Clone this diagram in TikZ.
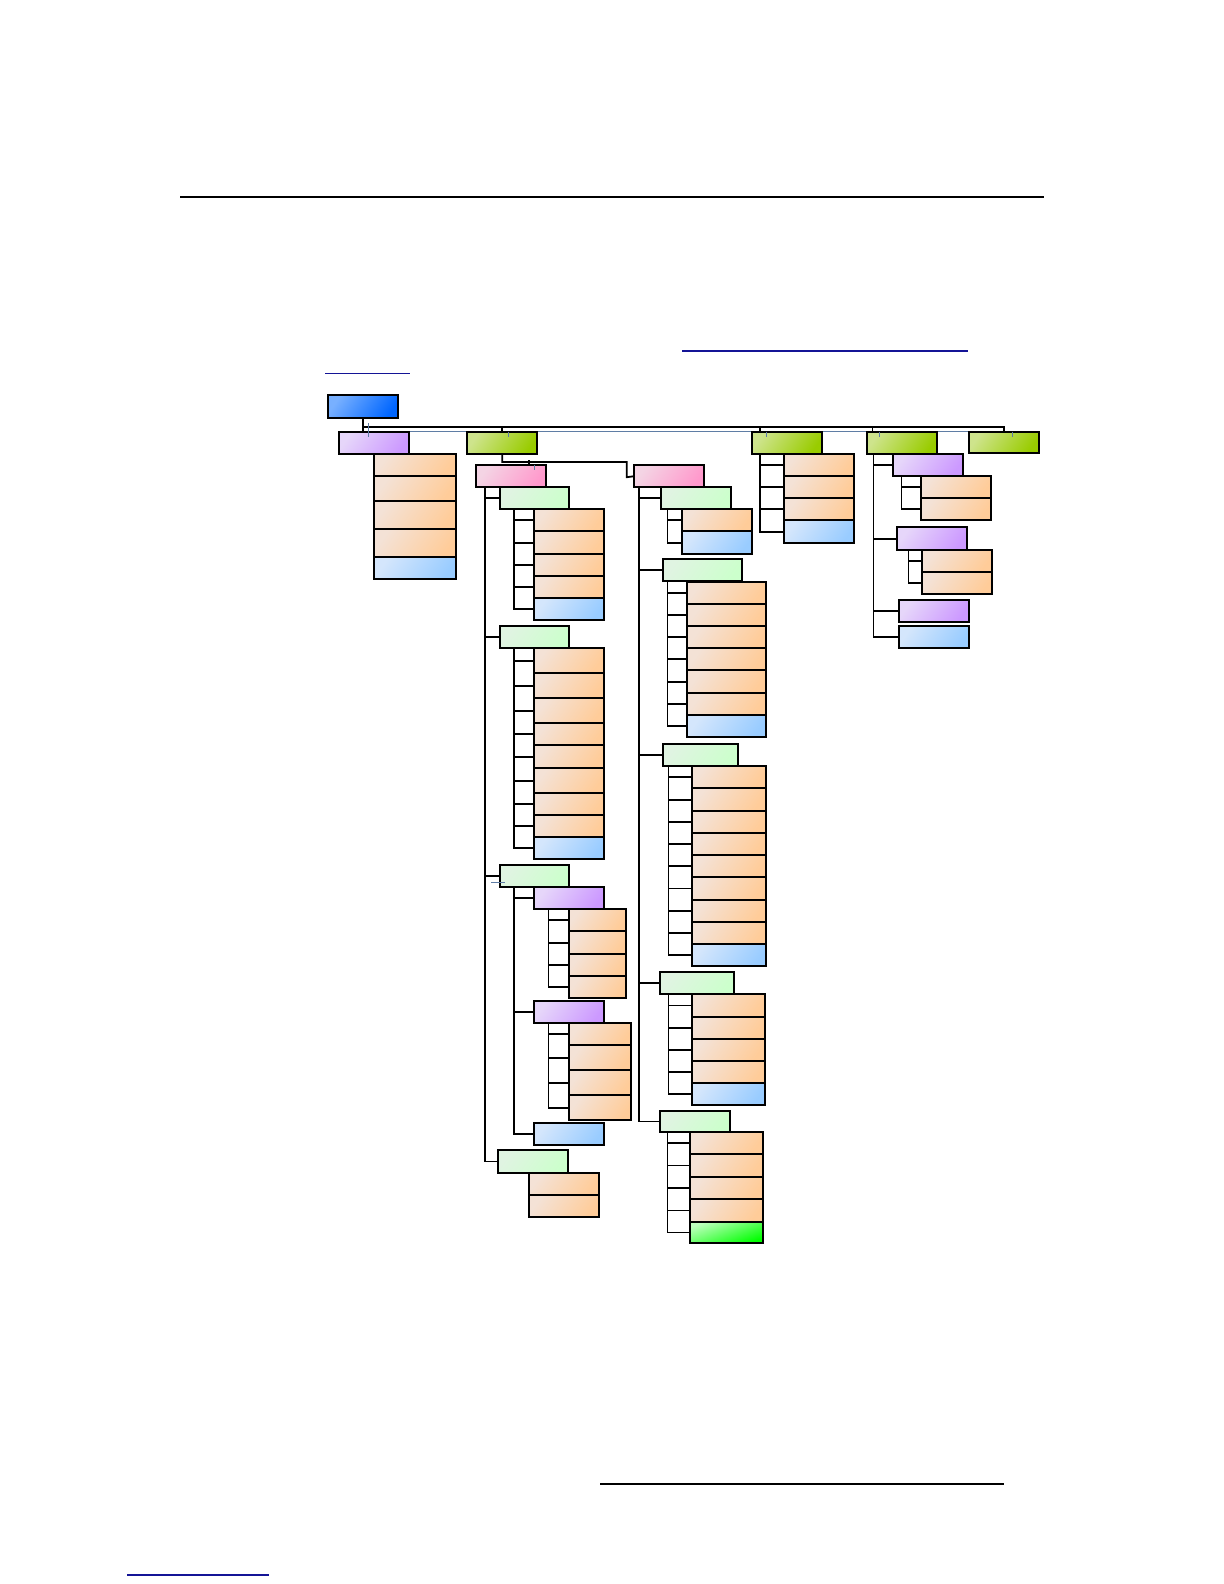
\documentclass[tikz,border=0pt]{standalone}
\usepackage{tikz}
\usetikzlibrary{fit}

\definecolor{orS}{RGB}{255,204,153}
\definecolor{orL}{RGB}{244,226,214}
\definecolor{blS}{RGB}{153,204,255}
\definecolor{blL}{RGB}{212,230,252}
\definecolor{puS}{RGB}{204,153,255}
\definecolor{puL}{RGB}{230,214,250}
\definecolor{liS}{RGB}{153,204,0}
\definecolor{liL}{RGB}{206,228,140}
\definecolor{piS}{RGB}{255,153,204}
\definecolor{piL}{RGB}{244,212,228}
\definecolor{lgS}{RGB}{204,255,204}
\definecolor{lgL}{RGB}{224,244,226}
\definecolor{rtS}{RGB}{0,102,255}
\definecolor{rtL}{RGB}{120,176,255}
\definecolor{bgS}{RGB}{0,255,0}
\definecolor{bgL}{RGB}{190,255,190}
\definecolor{tick}{RGB}{95,125,165}
\definecolor{link}{RGB}{20,20,150}

\tikzset{
  box/.style={draw, line width=0.9bp, inner sep=0pt},
  con/.style={line width=0.9bp},
  tk/.style={draw=tick, line width=0.6bp},
  rt/.style={top color=rtL, middle color=rtS!85!rtL, bottom color=rtS, shading angle=55},
  pu/.style={top color=puL, middle color=puS!80!puL, bottom color=puS, shading angle=55},
  li/.style={top color=liL, middle color=liS!85!liL, bottom color=liS, shading angle=55},
  pk/.style={top color=piL, middle color=piS!80!piL, bottom color=piS, shading angle=55},
  lg/.style={top color=lgL, middle color=lgS!80!lgL, bottom color=lgS, shading angle=55},
  ob/.style={top color=orL, middle color=orS!80!orL, bottom color=orS, shading angle=55},
  bb/.style={top color=blL, middle color=blS!80!blL, bottom color=blS, shading angle=55},
  gb/.style={top color=bgL, middle color=bgS!85!bgL, bottom color=bgS, shading angle=20}
}

% one column of boxes: name, left, right, list of style/top/bottom
\newcommand{\stk}[4]{\foreach \s/\ya/\yb [count=\k] in {#4}
  \node[box, \s, fit={(#2,\ya)(#3,\yb)}] (#1-\k) {};}
% stubs from a spine to the boxes of a column
\newcommand{\spine}[2]{\foreach \k in {1,...,#2}
  \draw[con] (#1-s) |- (#1-\k.west);}

\begin{document}
\begin{tikzpicture}[x=0.5bp, y=-0.5bp]
\path[fill=white] (0,0) rectangle (1224,1584);
\useasboundingbox (0,0) rectangle (1224,1584);

% page rules
\draw[line width=1.15bp] (180,197.3) -- (1044,197.3);
\draw[link, line width=0.7bp] (682,351) -- (968,351);
\draw[link, line width=0.7bp] (325,373.3) -- (410,373.3);
\draw[line width=0.7bp] (600,1484) -- (1004,1484);
\draw[link, line width=0.7bp] (127,1575) -- (268.5,1575);

% grey line under the top row
\draw[tk] (368.3,431.7) -- (1007.3,431.7);

% root and top row
\node[box, rt, fit={(328.3,395)(398.3,418.3)}] (root) {};
\node[box, pu, fit={(339.3,431.7)(409.3,454)}] (pur) {};
\node[box, li, fit={(467.3,431.7)(537.3,454)}] (gA) {};
\node[box, li, fit={(752.3,431.7)(822.3,454)}] (gB) {};
\node[box, li, fit={(867.3,431.7)(937.3,454)}] (gC) {};
\node[box, li, fit={(969.3,431.7)(1039.3,453.3)}] (gD) {};

\stk{pur}{374.3}{456.3}{ob/454/476.3, ob/476.3/501.3, ob/501.3/529.3, ob/529.3/557.3, bb/557.3/579.3}

% first green: two pink branches
\node[box, pk, fit={(476.3,465.3)(546.3,487.3)}] (pkA) {};
\node[box, pk, fit={(634.3,465.3)(704.3,487.3)}] (pkB) {};

% pink A
\node[box, lg, fit={(500.3,487.3)(569.3,509.3)}] (lgA1) {};
\node[box, lg, fit={(500.3,626.3)(569.3,648.3)}] (lgA2) {};
\node[box, lg, fit={(500.3,865.3)(569.3,887)}] (lgA3) {};
\node[box, lg, fit={(498.3,1150.3)(568.3,1172.7)}] (lgA4) {};
\stk{lgA1}{534.3}{604.3}{ob/509.3/531.3, ob/531.3/554, ob/554/576.3, ob/576.3/598.3, bb/598.3/620}
\stk{lgA2}{534.3}{604.3}{ob/648.3/673, ob/673/698.3, ob/698.3/723.3, ob/723.3/745.3, ob/745.3/768.3, ob/768.3/793.3, ob/793.3/815.3, ob/815.3/837.3, bb/837.3/859.3}
\node[box, pu, fit={(534.3,887.3)(604.3,909.3)}] (puA1) {};
\node[box, pu, fit={(534.3,1001.3)(604.3,1023.3)}] (puA2) {};
\node[box, bb, fit={(534.3,1123.3)(604.3,1145)}] (blA3) {};
\stk{puA1}{569.3}{626.3}{ob/909.3/931.3, ob/931.3/954.3, ob/954.3/976.3, ob/976.3/998}
\stk{puA2}{569.3}{631.3}{ob/1023.3/1045.3, ob/1045.3/1070.3, ob/1070.3/1095.3, ob/1095.3/1120.3}
\stk{lgA4}{529.3}{599.3}{ob/1173/1195.3, ob/1195.3/1217.3}

% pink B
\node[box, lg, fit={(661.3,487.3)(731.3,509.3)}] (lgB1) {};
\node[box, lg, fit={(663.3,559.3)(742.3,581.3)}] (lgB2) {};
\node[box, lg, fit={(663.3,744.3)(738.3,766)}] (lgB3) {};
\node[box, lg, fit={(660.3,972.3)(734.3,994.3)}] (lgB4) {};
\node[box, lg, fit={(660.3,1110.7)(730.3,1132.3)}] (lgB5) {};
\stk{lgB1}{682.3}{752.3}{ob/509.3/531.3, bb/531.3/554}
\stk{lgB2}{687.3}{766.3}{ob/581.7/604.3, ob/604.3/626.3, ob/626.3/648.3, ob/648.3/670.3, ob/670.3/693, ob/693/715, bb/715/737}
\stk{lgB3}{691.7}{766.3}{ob/766.3/788.3, ob/788.3/811, ob/811/833.3, ob/833.3/855.3, ob/855.3/877.3, ob/877.3/899.7, ob/899.7/922, ob/922/944.3, bb/944.3/966.3}
\stk{lgB4}{691.7}{765}{ob/994.3/1016.7, ob/1016.7/1039.3, ob/1039.3/1061.3, ob/1061.3/1083.3, bb/1083.3/1105.3}
\stk{lgB5}{689.7}{763.3}{ob/1132.3/1154.3, ob/1154.3/1176.7, ob/1176.7/1199.3, ob/1199.3/1221.7, gb/1221.7/1243.3}

% second and third green
\stk{gB}{784.3}{854.3}{ob/454/476.3, ob/476.3/498.3, ob/498.3/520.3, bb/520.3/543.3}
\node[box, pu, fit={(893.3,454)(963.3,476.3)}] (puC1) {};
\node[box, pu, fit={(897.3,527.3)(967.3,550.3)}] (puC2) {};
\node[box, pu, fit={(899.3,600.3)(969.3,622.3)}] (puC3) {};
\node[box, bb, fit={(899.3,626.3)(969.3,648.3)}] (blC4) {};
\stk{puC1}{921.3}{991.3}{ob/476.3/498.3, ob/498.3/520.3}
\stk{puC2}{922.3}{992.3}{ob/550.3/572.3, ob/572.3/594.3}

% connectors, top
\coordinate (bus) at (362.7,426.7);
\coordinate (gB-s) at ([xshift=4.1bp]gB.south west);
\coordinate (gBt) at ([xshift=4.1bp]gB.north west);
\coordinate (gC-s) at ([xshift=3.5bp]gC.south west);
\coordinate (gCt) at ([xshift=3bp]gC.north west);
\draw[con] (root.south) -- (root.south |- pur.north);
\draw[con] (bus) -| (gD.north);
\draw[con] (gA.north) -- (gA.north |- bus);
\draw[con] (gBt) -- (gBt |- bus);
\draw[con] (gCt) -- (gCt |- bus);

% connectors, first green
\draw[con] (gA.south) -- ++(0,7) -| ++(124.4,15.3) -- (pkB.west);
\draw[con] ([xshift=9bp]pkA.north) -- ++(0,-4.3);
\coordinate (pkA-s) at ([xshift=4.7bp]pkA.south west);
\coordinate (pkB-s) at ([xshift=2.6bp]pkB.south west);
\foreach \n in {lgA1,lgA2,lgA3,lgA4} \draw[con] (pkA-s) |- (\n.west);
\foreach \n in {lgB1,lgB2,lgB3,lgB4,lgB5} \draw[con] (pkB-s) |- (\n.west);

\coordinate (lgA1-s) at ([xshift=7.2bp]lgA1.south west);
\coordinate (lgA2-s) at ([xshift=7.2bp]lgA2.south west);
\coordinate (lgA3-s) at ([xshift=7.2bp]lgA3.south west);
\coordinate (puA1-s) at ([xshift=7.5bp]puA1.south west);
\coordinate (puA2-s) at ([xshift=7.5bp]puA2.south west);
\spine{lgA1}{5}
\spine{lgA2}{9}
\foreach \n in {puA1,puA2,blA3} \draw[con] (lgA3-s) |- (\n.west);
\spine{puA1}{4}
\spine{puA2}{4}

\coordinate (lgB1-s) at ([xshift=3.5bp]lgB1.south west);
\coordinate (lgB2-s) at ([xshift=2.5bp]lgB2.south west);
\coordinate (lgB3-s) at ([xshift=3bp]lgB3.south west);
\coordinate (lgB4-s) at ([xshift=4.5bp]lgB4.south west);
\coordinate (lgB5-s) at ([xshift=4bp]lgB5.south west);
\spine{lgB1}{2}
\spine{lgB2}{7}
\spine{lgB3}{9}
\spine{lgB4}{5}
\spine{lgB5}{5}

% connectors, second and third green
\spine{gB}{4}
\foreach \n in {puC1,puC2,puC3,blC4} \draw[con] (gC-s) |- (\n.west);
\coordinate (puC1-s) at ([xshift=4.5bp]puC1.south west);
\coordinate (puC2-s) at ([xshift=6bp]puC2.south west);
\spine{puC1}{2}
\spine{puC2}{2}

% small grey ticks
\draw[tk] (368.3,423.3) -- (368.3,437.3);
\draw[tk] (508.3,431.7) -- (508.3,437.3);
\draw[tk] (534.3,465.3) -- (534.3,470.3);
\draw[tk] (766.3,431.7) -- (766.3,437.3);
\draw[tk] (879.3,431.7) -- (879.3,437.3);
\draw[tk] (1012.7,431.7) -- (1012.7,437.3);
\draw[tk] (491,882.3) -- (504.7,882.3);
\end{tikzpicture}
\end{document}
